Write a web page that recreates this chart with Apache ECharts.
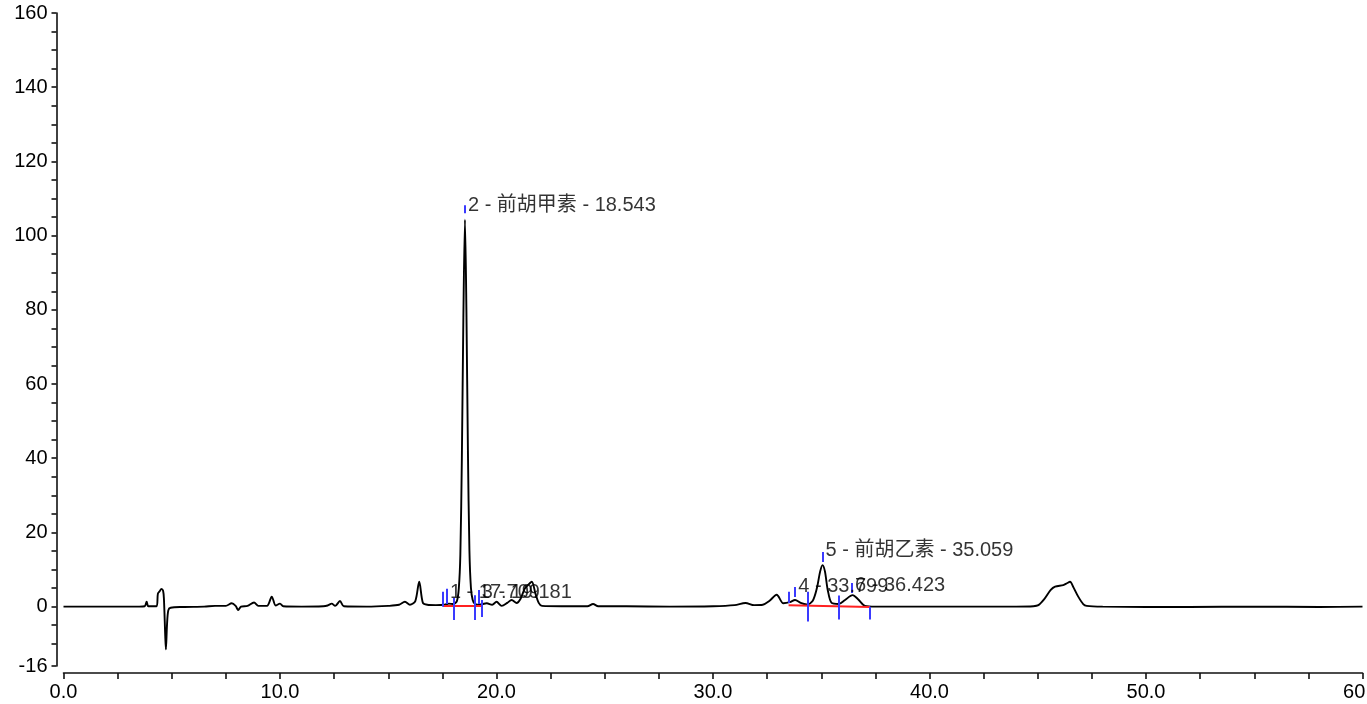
<!DOCTYPE html>
<html>
<head>
<meta charset="utf-8">
<script src="https://cdn.jsdelivr.net/npm/echarts@6/dist/echarts.min.js"></script>
<style>
html,body{margin:0;padding:0;background:#fff;}
#chart{width:1367px;height:704px;}
</style>
</head>
<body>
<div id="chart"></div>
<script>
// Chromatogram trace (time in minutes, signal)
const traceTime = [0,1,2,3,3.5,3.75,3.84,3.92,4.3,4.36,4.45,4.52,4.6,4.64,4.7,4.73,4.78,4.84,4.95,5.5,6.5,7,7.5,7.77,7.95,8.07,8.2,8.5,8.8,9,9.4,9.62,9.8,10,10.15,11,12,12.2,12.39,12.55,12.77,12.95,14,15,15.5,15.77,16,16.25,16.43,16.6,16.8,17.2,17.6,17.8,18,18.17,18.26,18.33,18.4,18.47,18.543,18.61,18.68,18.75,18.82,18.9,19,19.2,19.55,19.8,20,20.24,20.5,20.7,20.93,21.1,21.3,21.45,21.63,21.8,21.95,22.1,23,24.2,24.46,24.7,26,28,30,31,31.5,31.9,32.3,32.6,32.94,33.25,33.55,33.79,34.05,34.33,34.6,34.8,34.95,35.06,35.17,35.3,35.48,35.8,36.1,36.45,36.7,37.02,37.5,40,44,44.8,45.03,45.3,45.6,45.8,46.18,46.35,46.49,46.65,46.87,47.1,47.26,48,52,55,58,60];
const traceSignal = [0,0,0,0,0,0.1,1.3,0.1,0.1,3.5,4.2,4.8,4.3,2,-8,-11.5,-5,-1,-0.3,-0.1,0,0.2,0.2,0.9,0.2,-0.9,0,0.2,1.1,0.2,0.2,2.7,0.3,0.8,0.1,0,0.1,0.3,0.8,0.2,1.5,0.1,0,0.2,0.5,1.3,0.5,1.5,6.7,1.0,0.5,0.4,0.5,0.8,0.7,1.5,5,14,40,78,104.3,80,42,15,5,1.8,0.8,0.5,0.9,0.5,1.3,0.2,1.0,1.8,1.0,2.0,4.8,5.8,6.7,3.5,1.0,0.2,0.1,0.1,0.7,0.1,0.1,0,0.1,0.4,1.0,0.4,0.5,1.5,3.2,0.9,1.2,1.8,1.0,0.6,1.5,5,9.5,11.2,9.5,4.5,1.0,0.7,1.8,3.1,2.0,0.2,0,0,0,0.1,0.4,2,4.5,5.4,5.8,6.3,6.7,5.2,2.7,0.7,0.2,0,-0.1,0,-0.1,0];

// Integrated peaks
const peakNo = [1,2,3,4,5,6];
const peakTime = [17.709,18.543,19.181,33.799,35.059,36.423];
const peakName = ['','前胡甲素','','','前胡乙素',''];
const peakLabelY = [3.8,108,3.8,5.5,15,5.8];

// Blue integration markers
const markerTime = [17.53,17.709,18.04,18.543,19.0,19.181,19.33,33.49,33.799,34.39,35.059,35.82,36.423,37.25];
const markerTop = [4.0,4.8,2.3,108.2,3.1,4.5,1.8,4.0,5.3,4.0,14.7,3.0,6.4,0.0];
const markerBottom = [0.0,0.7,-3.6,106.0,-3.6,0.7,-2.8,1.0,2.6,-4.0,12.0,-3.5,3.7,-3.5];

// Red baselines
const baseStartTime = [17.53,33.49];
const baseStartY = [0.2,0.4];
const baseEndTime = [19.33,37.25];
const baseEndY = [0.2,-0.1];

// Axis ticks
const yTickValues = [-16,-10,-5,0,5,10,15,20,25,30,35,40,45,50,55,60,65,70,75,80,85,90,95,100,105,110,115,120,125,130,135,140,145,150,155,160];
const yLabelValues = [-16,0,20,40,60,80,100,120,140,160];

const chart = echarts.init(document.getElementById('chart'));
const FONT = '"Liberation Sans", Arial, "Noto Sans CJK SC", sans-serif';

const traceData = traceTime.map((t,i)=>[t, traceSignal[i]]);
const markerData = markerTime.map((t,i)=>({coords:[[t, markerBottom[i]],[t, markerTop[i]]]}));
const baseData = baseStartTime.map((t,i)=>({coords:[[t, baseStartY[i]],[baseEndTime[i], baseEndY[i]]]}));
const labelData = peakTime.map((t,i)=>({
  value:[t, peakLabelY[i]],
  text: peakName[i] ? (peakNo[i] + ' - ' + peakName[i] + ' - ' + t.toFixed(3)) : (peakNo[i] + ' - ' + t.toFixed(3))
}));

chart.setOption({
  animation:false,
  backgroundColor:'#fff',
  grid:{left:63.5, right:4.5, top:13, bottom:38, containLabel:false, outerBoundsMode:'none'},
  xAxis:{
    type:'value', min:0, max:60, interval:2.5,
    offset:7,
    axisLine:{show:true, onZero:false, lineStyle:{color:'#111', width:1.6}},
    axisTick:{show:true, inside:false, length:6, lineStyle:{color:'#111', width:1.6}},
    axisLabel:{
      show:true, interval:0, margin:9, color:'#000', fontSize:20, fontFamily:FONT,
      showMaxLabel:true, showMinLabel:true, hideOverlap:false,
      formatter:function(v){ return (Math.abs(v % 10) < 1e-9) ? v.toFixed(1) : ''; }
    },
    splitLine:{show:false}
  },
  yAxis:{
    type:'value', min:-16, max:160,
    offset:7,
    axisLine:{show:true, onZero:false, lineStyle:{color:'#111', width:1.6}},
    axisTick:{show:true, inside:false, length:5, customValues:yTickValues, lineStyle:{color:'#111', width:1.6}},
    axisLabel:{show:true, margin:9, color:'#000', fontSize:20, fontFamily:FONT, customValues:yLabelValues},
    splitLine:{show:false}
  },
  series:[
    {
      type:'line', data:traceData, showSymbol:false, smooth:0.3,
      lineStyle:{color:'#000', width:1.9}, z:3
    },
    {
      type:'lines', coordinateSystem:'cartesian2d', data:baseData,
      lineStyle:{color:'#ff2020', width:2, opacity:1}, z:4
    },
    {
      type:'lines', coordinateSystem:'cartesian2d', data:markerData,
      lineStyle:{color:'#3a3aff', width:2, opacity:1}, z:5
    },
    {
      type:'scatter', symbolSize:0, z:6,
      data:labelData,
      label:{
        show:true, position:'right', distance:3, color:'#000', fontSize:20, fontFamily:FONT,
        formatter:function(p){ return p.data.text; }
      }
    }
  ]
});
</script>
</body>
</html>
